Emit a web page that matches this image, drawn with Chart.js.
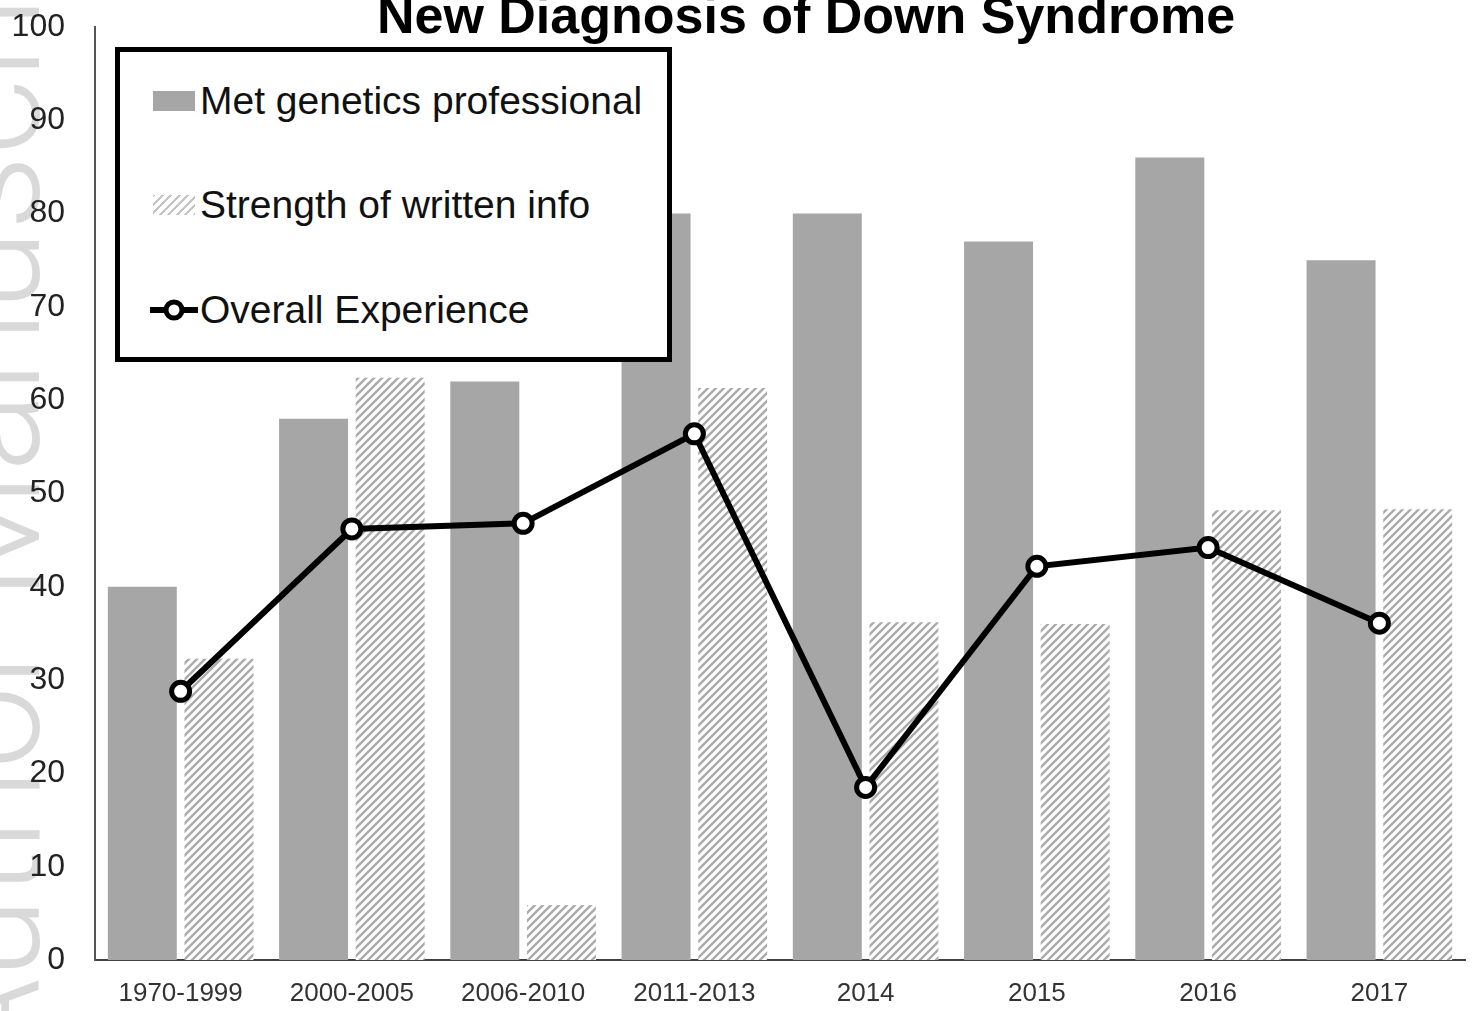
<!DOCTYPE html>
<html>
<head>
<meta charset="utf-8">
<script src="https://cdn.jsdelivr.net/npm/chart.js@4/dist/chart.umd.min.js"></script>
<style>
  html, body { margin: 0; padding: 0; background: #fff; }
  #wrap { position: relative; width: 1479px; height: 1011px; overflow: hidden; }
  #legend {
    position: absolute; left: 115px; top: 47px; width: 547px; height: 305px;
    border: 5px solid #000; background: #fff;
    font-family: 'Liberation Sans', Arial, sans-serif; font-size: 39px; color: #111;
  }
  .item { position: absolute; left: 33px; height: 44px; display: flex; align-items: center; white-space: nowrap; }
  .swatch { width: 42px; height: 20px; margin-right: 5px; flex: none; }
</style>
</head>
<body>
<div id="wrap">
  <canvas id="chart" width="1479" height="1011"></canvas>
  <div id="legend"></div>
</div>
<script>
const titleText = 'New Diagnosis of Down Syndrome'
const watermarkText = 'Author Manuscript'

const categories = ['1970-1999', '2000-2005', '2006-2010', '2011-2013', '2014', '2015', '2016', '2017']
const metGenetics = [40, 58, 62, 80, 80, 77, 86, 75]
const writtenInfo = [32.3, 62.4, 5.9, 61.3, 36.2, 36, 48.2, 48.3]
const overallExperience = [28.8, 46.2, 46.8, 56.4, 18.5, 42.2, 44.2, 36.1]
const yTicks = [0, 10, 20, 30, 40, 50, 60, 70, 80, 90, 100]

// diagonal hatch used for the "written info" bars
const makeHatch = () => {
  const c = document.createElement('canvas')
  c.width = 8
  c.height = 8
  const g = c.getContext('2d')
  g.fillStyle = '#fff'
  g.fillRect(0, 0, 8, 8)
  g.strokeStyle = '#ababab'
  g.lineWidth = 2.4
  g.beginPath()
  g.moveTo(-1, 9); g.lineTo(9, -1)
  g.moveTo(-1, 1); g.lineTo(1, -1)
  g.moveTo(7, 9); g.lineTo(9, 7)
  g.stroke()
  return g.createPattern(c, 'repeat')
}

const titlePlugin = {
  id: 'cutTitle',
  afterDraw(chart) {
    const ctx = chart.ctx
    ctx.save()
    ctx.font = 'bold 52px "Liberation Sans", Arial, sans-serif'
    ctx.fillStyle = '#000'
    ctx.textAlign = 'center'
    ctx.textBaseline = 'alphabetic'
    ctx.fillText(titleText, 806, 33)
    ctx.restore()
  },
}

// faint rotated page watermark, mostly cut off on the left edge
const watermarkPlugin = {
  id: 'watermark',
  beforeDraw(chart) {
    const ctx = chart.ctx
    ctx.save()
    ctx.font = '300 148px Roboto, "Liberation Sans", Arial, sans-serif'
    const lead = ctx.measureText('Author ').width
    ctx.translate(39, 600 + lead)
    ctx.rotate(-Math.PI / 2)
    ctx.fillStyle = '#d9d9d9'
    ctx.fillText(watermarkText, 0, 0)
    ctx.restore()
  },
}

const buildLegend = (datasets) => {
  const box = document.getElementById('legend')
  const tops = [27, 131, 236]
  datasets.forEach((ds, i) => {
    const item = document.createElement('div')
    item.className = 'item'
    item.style.top = tops[i] + 'px'
    let sw
    if (ds.type === 'line') {
      sw = document.createElementNS('http://www.w3.org/2000/svg', 'svg')
      sw.setAttribute('width', '48')
      sw.setAttribute('height', '26')
      sw.style.marginRight = '2px'
      sw.style.marginLeft = '-3px'
      sw.innerHTML = '<line x1="0" y1="13" x2="48" y2="13" stroke="#000" stroke-width="6"/>' +
        '<circle cx="24" cy="13" r="8" fill="#fff" stroke="#000" stroke-width="5"/>'
    } else {
      sw = document.createElement('div')
      sw.className = 'swatch'
      sw.style.background = ds.legendFill
    }
    const label = document.createElement('span')
    label.textContent = ds.label
    item.appendChild(sw)
    item.appendChild(label)
    box.appendChild(item)
  })
}

const onPageLoad = () => {
  const datasets = [
    {
      type: 'bar',
      label: 'Met genetics professional',
      data: metGenetics,
      backgroundColor: '#a6a6a6',
      legendFill: '#a6a6a6',
      order: 1,
    },
    {
      type: 'bar',
      label: 'Strength of written info',
      data: writtenInfo,
      backgroundColor: makeHatch(),
      legendFill: 'repeating-linear-gradient(135deg, #c4c4c4 0 2px, #fff 2px 6px)',
      order: 1,
    },
    {
      type: 'line',
      label: 'Overall Experience',
      data: overallExperience,
      borderColor: '#000',
      borderWidth: 6,
      pointRadius: 9,
      pointBorderWidth: 5,
      pointBackgroundColor: '#fff',
      pointBorderColor: '#000',
      tension: 0,
      order: 0,
    },
  ]

  new Chart(document.getElementById('chart'), {
    data: { labels: categories, datasets: datasets },
    options: {
      responsive: false,
      animation: false,
      events: [],
      layout: { padding: { top: 27, right: 5, left: 0, bottom: 0 } },
      datasets: {
        bar: { categoryPercentage: 0.895, barPercentage: 0.9 },
      },
      plugins: {
        legend: { display: false },
        tooltip: { enabled: false },
      },
      scales: {
        x: {
          grid: { display: false, drawTicks: false },
          border: { color: '#404040', width: 2 },
          ticks: {
            color: '#333',
            font: { family: '"Liberation Sans", Arial, sans-serif', size: 26 },
            padding: 18,
            maxRotation: 0,
          },
          afterFit: (scale) => { scale.height = 51 },
        },
        y: {
          min: 0,
          max: 100,
          grid: { display: false, drawTicks: false },
          border: { color: '#555', width: 2 },
          afterBuildTicks: (scale) => { scale.ticks = yTicks.map((v) => ({ value: v })) },
          ticks: {
            color: '#222',
            font: { family: '"Liberation Sans", Arial, sans-serif', size: 32 },
            padding: 30,
          },
          afterFit: (scale) => {
            scale.width = 95
            scale.paddingTop = 0
            scale.paddingBottom = 0
          },
        },
      },
    },
    plugins: [watermarkPlugin, titlePlugin],
  })

  buildLegend(datasets)
}

document.addEventListener('DOMContentLoaded', onPageLoad)
</script>
</body>
</html>
